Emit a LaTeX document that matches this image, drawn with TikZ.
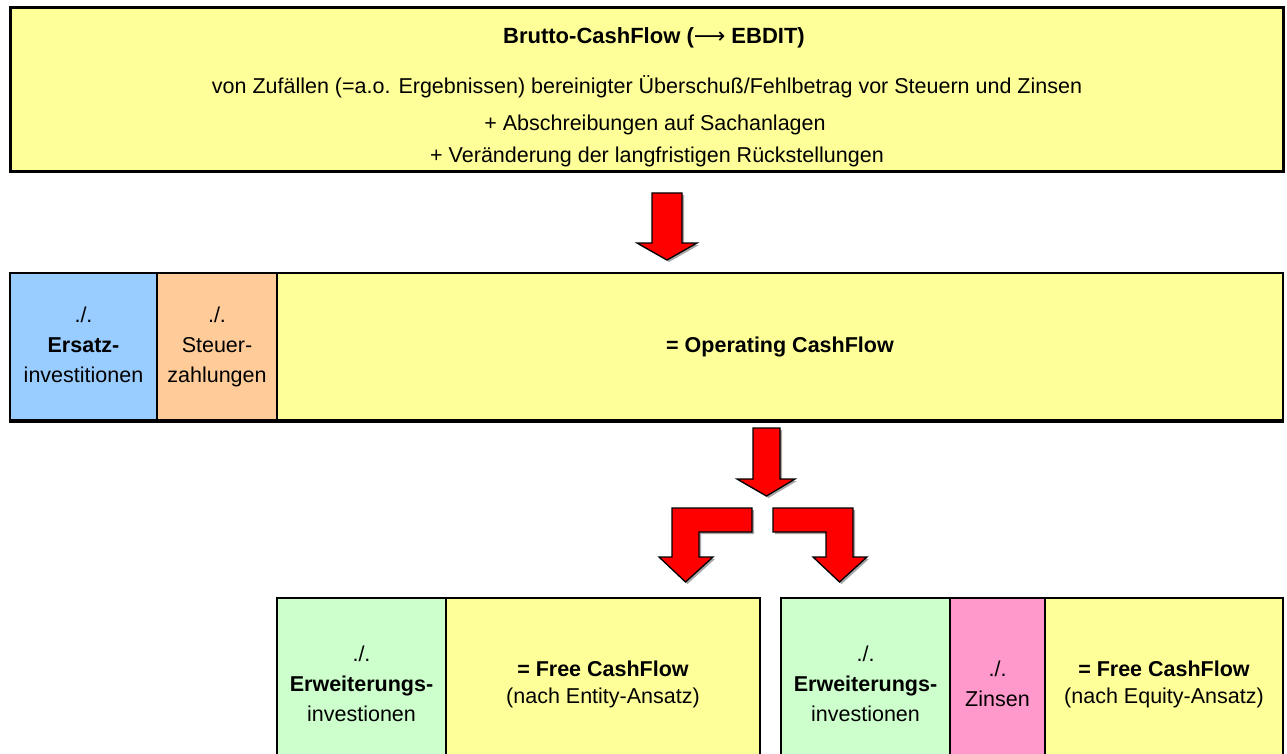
\documentclass[tikz,border=0pt]{standalone}
\usepackage{fontspec}
\setmainfont{Liberation Sans}
\newfontfamily\arrowfont{DejaVu Sans}
\definecolor{cfyellow}{HTML}{FFFF99}
\definecolor{cfblue}{HTML}{99CCFF}
\definecolor{cforange}{HTML}{FFCC99}
\definecolor{cfgreen}{HTML}{CCFFCC}
\definecolor{cfpink}{HTML}{FF99CC}
\definecolor{cfred}{HTML}{FF0000}
\newcommand{\txtsize}{\fontsize{21.5}{30}\selectfont}
\begin{document}
\begin{tikzpicture}[x=1pt,y=-1pt,
  cell/.style={draw=black, line width=2pt, inner sep=0pt, align=center, font=\txtsize},
  line/.style={inner sep=0pt, font=\txtsize},
  blockarrow/.style={fill=cfred, draw=black, line width=1.3pt, line join=miter},
  arrowshadow/.style={fill=black!35, draw=none}]
\useasboundingbox (0,0) rectangle (1287,754);

% --- Brutto-CashFlow box ---
\node[cell, fill=cfyellow, line width=3pt, minimum width=1273pt, minimum height=164pt] (brutto) at (646.5,90) {};
\node[line, font=\fontsize{22}{26}\selectfont\bfseries] (bt0) at (654,38) {Brutto-CashFlow ({\arrowfont\mdseries ⟶} EBDIT)};
\node[line] (bt1) at (647,87) {von Zufällen (=a.o. Ergebnissen) bereinigter Überschuß/Fehlbetrag vor Steuern und Zinsen};
\node[line] (bt2) at (655,125) {+ Abschreibungen auf Sachanlagen};
\node[line] (bt3) at (657,157) {+ Veränderung der langfristigen Rückstellungen};

% --- Operating CashFlow row ---
\node[cell, fill=cfblue, minimum width=147pt, minimum height=147pt] (ersatz) at (83.5,346.5)
  {\raisebox{-4pt}{\begin{tabular}{@{}c@{}}./.\\\textbf{Ersatz-}\\investitionen\end{tabular}}};
\node[cell, fill=cforange, minimum width=120pt, minimum height=147pt] (steuer) at (217,346.5)
  {\raisebox{-4pt}{\begin{tabular}{@{}c@{}}./.\\Steuer-\\zahlungen\end{tabular}}};
\node[cell, fill=cfyellow, minimum width=1006pt, minimum height=147pt] (opcf) at (780,346.5)
  {\raisebox{-3pt}{\textbf{= Operating CashFlow}}};
\draw[line width=3.5pt] (ersatz.south west) -- (opcf.south east);

% --- Free CashFlow, entity approach ---
\node[cell, fill=cfgreen, minimum width=169pt, minimum height=172pt] (erwL) at (361.5,684)
  {./.\\\textbf{Erweiterungs-}\\investionen};
\node[cell, fill=cfyellow, minimum width=314pt, minimum height=172pt] (fcfL) at (603,684)
  {\textbf{= Free CashFlow}\\[-3pt](nach Entity-Ansatz)};

% --- Free CashFlow, equity approach ---
\node[cell, fill=cfgreen, minimum width=169pt, minimum height=172pt] (erwR) at (865.5,684)
  {./.\\\textbf{Erweiterungs-}\\investionen};
\node[cell, fill=cfpink, minimum width=95pt, minimum height=172pt] (zins) at (997.5,684)
  {./.\\Zinsen};
\node[cell, fill=cfyellow, minimum width=238pt, minimum height=172pt] (fcfR) at (1164,684)
  {\textbf{= Free CashFlow}\\[-3pt](nach Equity-Ansatz)};

% --- block arrows ---
\def\arrowA{(652,193) -- (682,193) -- (682,243) -- (697,243) -- (667,260) -- (637,243) -- (652,243) -- cycle}
\def\arrowB{(753,428) -- (780,428) -- (780,479) -- (795,479) -- (766.5,496) -- (737,479) -- (753,479) -- cycle}
\def\arrowL{(752,508) -- (752,532) -- (699,532) -- (699,557) -- (713,557) -- (685.5,582) -- (659,557) -- (672,557) -- (672,508) -- cycle}
\def\arrowR{(773,508) -- (853,508) -- (853,557) -- (867,557) -- (839.5,582) -- (813,557) -- (826,557) -- (826,532) -- (773,532) -- cycle}
\foreach \shape in {\arrowA,\arrowB,\arrowL,\arrowR}{
  \fill[arrowshadow, shift={(2,2)}] \shape;
  \filldraw[blockarrow] \shape;
}
\end{tikzpicture}
\end{document}
